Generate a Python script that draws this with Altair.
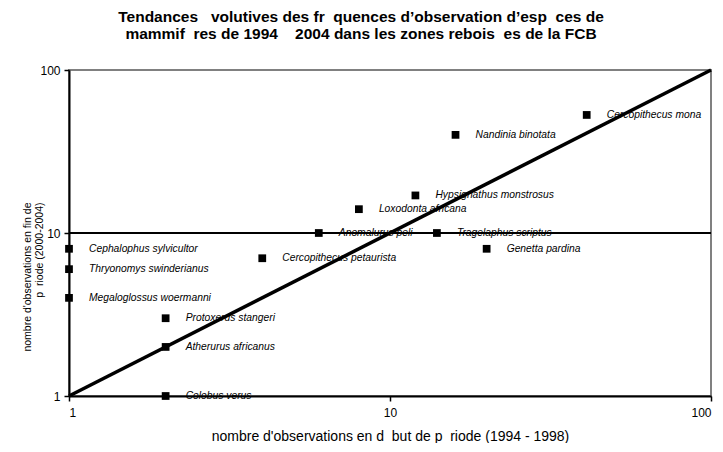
import altair as alt
import pandas as pd

names = [
    "Cercopithecus mona", "Nandinia binotata", "Hypsignathus monstrosus",
    "Loxodonta africana", "Anomalurus peli", "Tragelaphus scriptus",
    "Genetta pardina", "Cercopithecus petaurista", "Cephalophus sylvicultor",
    "Thryonomys swinderianus", "Megaloglossus woermanni", "Protoxerus stangeri",
    "Atherurus africanus", "Colobus verus",
]
x_start = [41, 16, 12, 8, 6, 14, 20, 4, 1, 1, 1, 2, 2, 2]
y_end = [53, 40, 17, 14, 10, 10, 8, 7, 8, 6, 4, 3, 2, 1]
diag = [1, 100]
tick_vals = [1, 10, 100]

NB = "\u00a0"
title_lines = [
    f"Tendances{NB*3}volutives des fr{NB*2}quences d\u2019observation d\u2019esp{NB*2}ces de",
    f"mammif{NB*2}res de 1994{NB*4}2004 dans les zones rebois{NB*2}es de la FCB",
]
x_title = f"nombre d'observations en d{NB*2}but de p{NB*2}riode (1994 - 1998)"
y_title = ["nombre d'observations en fin de", f"p{NB*2}riode (2000-2004)"]

df = pd.DataFrame({"name": names, "x": x_start, "y": y_end})
ddf = pd.DataFrame({"x": diag, "y": diag})

FONT = "Liberation Sans"

xs = alt.Scale(type="log", domain=[1, 100], nice=False)
ys = alt.Scale(type="log", domain=[1, 100], nice=False)

xax = alt.Axis(
    values=tick_vals, format="d", grid=False, domainColor="black", domainWidth=2,
    tickColor="black", tickWidth=1.5, tickSize=5, labelFont=FONT, labelFontSize=12,
    labelColor="black", labelPadding=6, title=x_title,
    titleFont=FONT, titleFontSize=14, titleFontWeight="normal", titleColor="black",
    titlePadding=11,
)
yax = alt.Axis(
    values=tick_vals, format="d", grid=False, domainColor="black", domainWidth=2,
    tickColor="black", tickWidth=1.5, tickSize=5, labelFont=FONT, labelFontSize=12,
    labelColor="black", labelPadding=4,
    title=y_title,
    titleFont=FONT, titleFontSize=10.5, titleFontWeight="normal",
    titleColor="black", titleAlign="right", titleY=132, titleX=-37, titleBaseline="bottom",
    titleLineHeight=12,
)

line = alt.Chart(ddf).mark_line(color="black", strokeWidth=3.5).encode(
    x=alt.X("x:Q", scale=xs, axis=xax),
    y=alt.Y("y:Q", scale=ys, axis=yax),
)

hrule = alt.Chart(pd.DataFrame({"y": [10]})).mark_rule(color="black", strokeWidth=2).encode(
    y=alt.Y("y:Q", scale=ys),
)

pts = alt.Chart(df).mark_point(shape="square", filled=True, color="black", size=60, opacity=1).encode(
    x=alt.X("x:Q", scale=xs),
    y=alt.Y("y:Q", scale=ys),
)

labels = alt.Chart(df).mark_text(
    align="left", baseline="middle", dx=20, font=FONT, fontSize=10.3, fontStyle="italic", color="black",
).encode(
    x=alt.X("x:Q", scale=xs),
    y=alt.Y("y:Q", scale=ys),
    text="name:N",
)

chart = alt.layer(hrule, line, pts, labels).properties(
    width=642,
    height=326,
    padding={"left": 61, "top": 62, "right": 3, "bottom": 47},
    autosize=alt.AutoSizeParams(type="none"),
    title=alt.TitleParams(
        text=title_lines,
        font=FONT, fontSize=15.5, fontWeight="bold", color="black", anchor="middle",
        dx=-29, offset=21, lineHeight=17,
    ),
).configure_view(stroke="#808080", strokeWidth=2)

chart.save("out.html", embed_options={"renderer": "svg", "actions": False})
